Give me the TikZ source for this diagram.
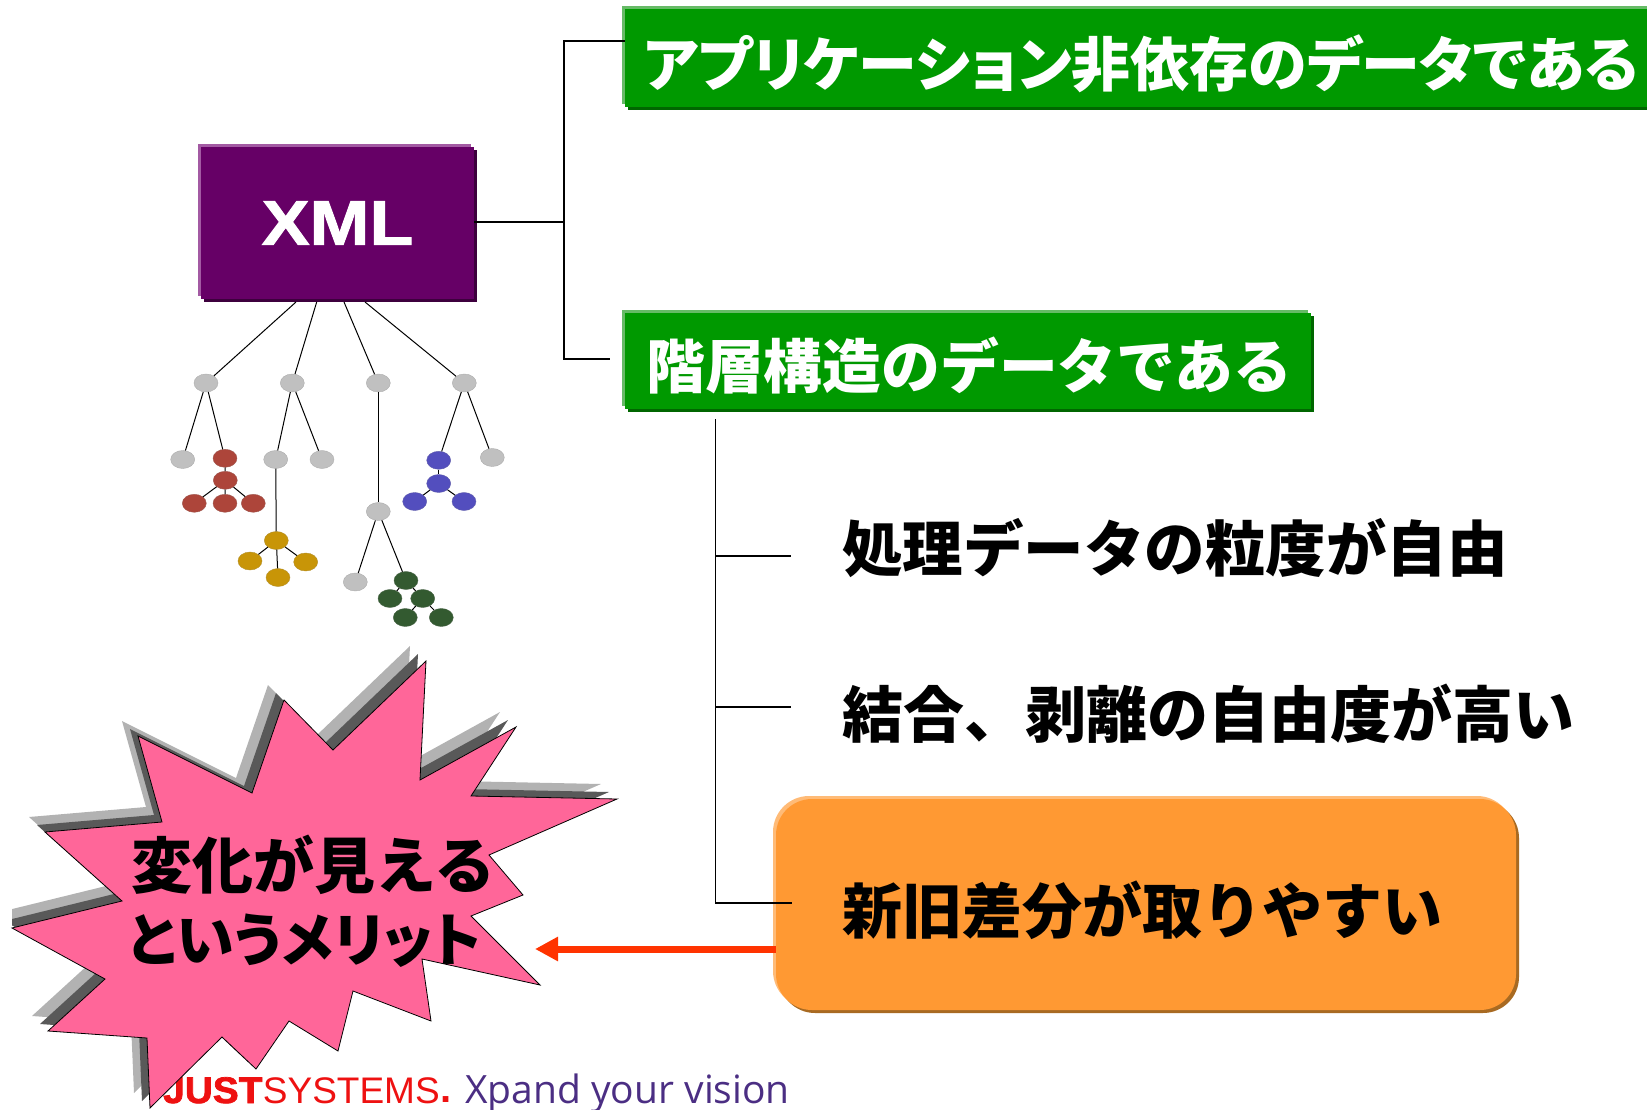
\documentclass[tikz,border=0pt]{standalone}
\usepackage{fontspec}
\usepackage{tikz}
\usepackage{xcolor}
\usetikzlibrary{arrows.meta,shadows,shapes.geometric}
\setmainfont{Liberation Sans}
\newfontfamily\jpfont{Noto Sans CJK JP Black}
\newfontfamily\jpnarrow[RawFeature={+palt}]{Noto Sans CJK JP Black}
\newfontfamily\wideletters[FakeStretch=1.14,FakeBold=1.5]{Liberation Sans Bold}
\newfontfamily\justfont[FakeStretch=1.05,FakeBold=2]{Liberation Sans Bold}
\newfontfamily\tagfont{Open Sans}
\definecolor{xml-fill}{HTML}{660066}
\definecolor{xml-light}{HTML}{A35AA3}
\definecolor{xml-dark}{HTML}{3D003D}
\definecolor{green-fill}{HTML}{009900}
\definecolor{green-light}{HTML}{66BB66}
\definecolor{green-dark}{HTML}{006600}
\definecolor{orange-fill}{HTML}{FF9933}
\definecolor{orange-light}{HTML}{FFBB77}
\definecolor{orange-dark}{HTML}{A86A22}
\definecolor{burst-pink}{HTML}{FF6699}
\definecolor{leaf-gray}{HTML}{C0C0C0}
\definecolor{leaf-red}{HTML}{AD453A}
\definecolor{leaf-yellow}{HTML}{C89507}
\definecolor{leaf-green}{HTML}{335A30}
\definecolor{leaf-blue}{HTML}{534EBE}
\definecolor{tag-purple}{HTML}{4B2E83}
\definecolor{tag-red}{HTML}{EE1111}
\definecolor{arrow-red}{HTML}{FF3300}
\tikzset{
    bevel-box/.style 2 args = {rectangle, inner sep=0pt, fill=#1-fill, rounded corners=#2,
        general shadow={shadow xshift=3pt, shadow yshift=-3pt, fill=#1-dark},
        general shadow={shadow xshift=-3pt, shadow yshift=3pt, fill=#1-light}},
    leaf/.style = {ellipse, draw=#1!70!gray, fill=#1, thin, minimum width=24pt, minimum height=18pt, inner sep=0pt},
    heading/.style = {anchor=west, inner sep=0pt, text=white, font=\jpfont\fontsize{58.8}{58.8}\selectfont},
    point/.style = {anchor=west, inner sep=0pt, font=\jpfont\fontsize{60.5}{60.5}\selectfont},
    link/.style = {line width=1.5pt},
    twig/.style = {line width=1pt},
    burst-outline/.style = {insert path={(426,661) -- (420,780) -- (516,727) -- (471,796) -- (617,799) -- (489,855)
        -- (523,895) -- (471,916) -- (540,985) -- (422,959) -- (431,1021) -- (353,991) -- (338,1051) -- (289,1021)
        -- (256,1069) -- (222,1037) -- (150,1108) -- (147,1038) -- (48,1031) -- (105,979) -- (12,928) -- (122,901)
        -- (45,832) -- (162,822) -- (138,736) -- (252,793) -- (284,700) -- (333,750) -- cycle}},
}
\begin{document}
\begin{tikzpicture}[x=1pt,y=-1pt]
\clip (0,0) rectangle (1647,1110);

% boxes on the right
\node [bevel-box={green}{0pt}, minimum width=1030pt, minimum height=98pt] (app-box) at (1140,58.5) {};
\node [heading, font=\jpnarrow\fontsize{59}{59}\selectfont] (app-text) at (643,64) {アプリケーション非依存のデータである};
\node [bevel-box={green}{0pt}, minimum width=686pt, minimum height=96pt] (tree-box) at (968,361) {};
\node [heading] (tree-text) at (646,366) {階層構造のデータである};
\node [bevel-box={orange}{36pt}, minimum width=740pt, minimum height=211pt] (diff-box) at (1146,904.5) {};
\node [point] (grain-text) at (842,548) {処理データの粒度が自由};
\node [point, font=\jpfont\fontsize{61}{61}\selectfont] (join-text) at (842,714) {結合、剥離の自由度が高い};
\node [point, font=\jpfont\fontsize{60}{60}\selectfont] (diff-text) at (842,910) {新旧差分が取りやすい};

% root of the tree
\node [bevel-box={xml}{0pt}, minimum width=273pt, minimum height=151pt, text=white, font=\wideletters\fontsize{63}{63}\selectfont] (xml) at (337.5,223) {XML};

% connectors on the right
\coordinate (spine-top) at (564,41);
\coordinate (spine-mid) at (564,222);
\coordinate (spine-low) at (564,359);
\coordinate (spine-end) at (610,359);
\draw [link] (app-box.west |- spine-top) -- (spine-top) -- (spine-low) -- (spine-end);
\draw [link] (xml.east |- spine-mid) -- (spine-mid);
\coordinate (sub-top) at (715.5,419);
\coordinate (sub-grain) at (715.5,556);
\coordinate (sub-join) at (715.5,707);
\coordinate (sub-low) at (715.5,903);
\coordinate (grain-end) at (791,556);
\coordinate (join-end) at (791,707);
\coordinate (low-end) at (792,903);
\draw [link] (sub-top) -- (sub-low) -- (low-end);
\draw [link] (sub-grain) -- (grain-end);
\draw [link] (sub-join) -- (join-end);

% tree
\node [leaf=leaf-gray] (n1) at (206,383) {};
\node [leaf=leaf-gray] (n2) at (292.3,383) {};
\node [leaf=leaf-gray] (n3) at (378.3,383) {};
\node [leaf=leaf-gray] (n4) at (464.3,383) {};
\node [leaf=leaf-gray] (n1a) at (182.7,459.5) {};
\node [leaf=leaf-gray] (n2a) at (275.7,459.5) {};
\node [leaf=leaf-gray] (n2b) at (322,459.5) {};
\node [leaf=leaf-gray] (n3a) at (378.3,511.5) {};
\node [leaf=leaf-gray] (n3b) at (355.3,582) {};
\node [leaf=leaf-gray] (n4b) at (492.3,457.5) {};
\node [leaf=leaf-red] (r1) at (225,458.3) {};
\node [leaf=leaf-red] (r2) at (225.3,480.3) {};
\node [leaf=leaf-red] (r3) at (194.3,503.3) {};
\node [leaf=leaf-red] (r4) at (225,503.3) {};
\node [leaf=leaf-red] (r5) at (253.3,503.3) {};
\node [leaf=leaf-yellow] (y1) at (276.3,540.5) {};
\node [leaf=leaf-yellow] (y2) at (250,561) {};
\node [leaf=leaf-yellow] (y3) at (305.7,562) {};
\node [leaf=leaf-yellow] (y4) at (278,577.5) {};
\node [leaf=leaf-green] (g1) at (406,580.5) {};
\node [leaf=leaf-green] (g2) at (390,598.5) {};
\node [leaf=leaf-green] (g3) at (422.7,598.5) {};
\node [leaf=leaf-green] (g4) at (405.3,617.5) {};
\node [leaf=leaf-green] (g5) at (441.3,617.5) {};
\node [leaf=leaf-blue] (b1) at (438.7,460.3) {};
\node [leaf=leaf-blue] (b2) at (438.7,483.5) {};
\node [leaf=leaf-blue] (b3) at (414.7,501.5) {};
\node [leaf=leaf-blue] (b4) at (464,501.5) {};

\coordinate (drop1) at (296,302);
\coordinate (drop2) at (316.7,302);
\coordinate (drop3) at (344,302);
\coordinate (drop4) at (365,302);
\draw [twig] (drop1) -- (n1);
\draw [twig] (drop2) -- (n2);
\draw [twig] (drop3) -- (n3);
\draw [twig] (drop4) -- (n4);
\draw [twig] (n1) -- (n1a);
\draw [twig] (n1) -- (r1);
\draw [twig] (n2) -- (n2a);
\draw [twig] (n2) -- (n2b);
\draw [twig] (n3) -- (n3a);
\draw [twig] (n3a) -- (n3b);
\draw [twig] (n3a) -- (g1);
\draw [twig] (n4) -- (b1);
\draw [twig] (n4) -- (n4b);
\draw [twig] (n2a) -- (y1);
\draw [twig] (r1) -- (r2);
\draw [twig] (r2) -- (r3);
\draw [twig] (r2) -- (r4);
\draw [twig] (r2) -- (r5);
\draw [twig] (y1) -- (y2);
\draw [twig] (y1) -- (y3);
\draw [twig] (y1) -- (y4);
\draw [twig] (g1) -- (g2);
\draw [twig] (g1) -- (g3);
\draw [twig] (g3) -- (g4);
\draw [twig] (g3) -- (g5);
\draw [twig] (b1) -- (b2);
\draw [twig] (b2) -- (b3);
\draw [twig] (b2) -- (b4);

% footer sits under the burst
\node [anchor=base west, inner sep=0pt, text=tag-red, font=\justfont\fontsize{37}{37}\selectfont] (just) at (163,1103) {JUST};
\node [anchor=base west, inner sep=0pt, text=tag-red, font=\fontsize{37}{37}\selectfont] (systems) at (just.base east) {SYSTEMS};
\node [anchor=base west, inner sep=0pt, text=tag-red, font=\bfseries\fontsize{40}{40}\selectfont] (dot) at ([yshift=1pt]systems.base east) {.};
\node [anchor=base west, inner sep=0pt, text=tag-purple, font=\tagfont\fontsize{39}{39}\selectfont] (slogan) at (465,1103) {Xpand your vision};

% burst
\begin{scope}
\clip (12,0) rectangle (700,1110);
\fill [gray!60, shift={(-16,-15)}, burst-outline];
\fill [black!65, shift={(-8,-7)}, burst-outline];
\end{scope}
\draw [fill=burst-pink, thick, miter limit=20, burst-outline];
\node [anchor=west, inner sep=0pt, font=\jpfont\fontsize{61}{61}\selectfont] (burst-one) at (131,865) {変化が見える};
\node [anchor=west, inner sep=0pt, font=\jpnarrow\fontsize{58}{58}\selectfont] (burst-two) at (128,941) {というメリット};

% arrow to the burst
\coordinate (burst-tip) at (535,949);
\draw [-{Triangle[length=23pt,width=23pt]}, line width=7pt, color=arrow-red] (diff-box.west |- burst-tip) -- (burst-tip);
\end{tikzpicture}
\end{document}
